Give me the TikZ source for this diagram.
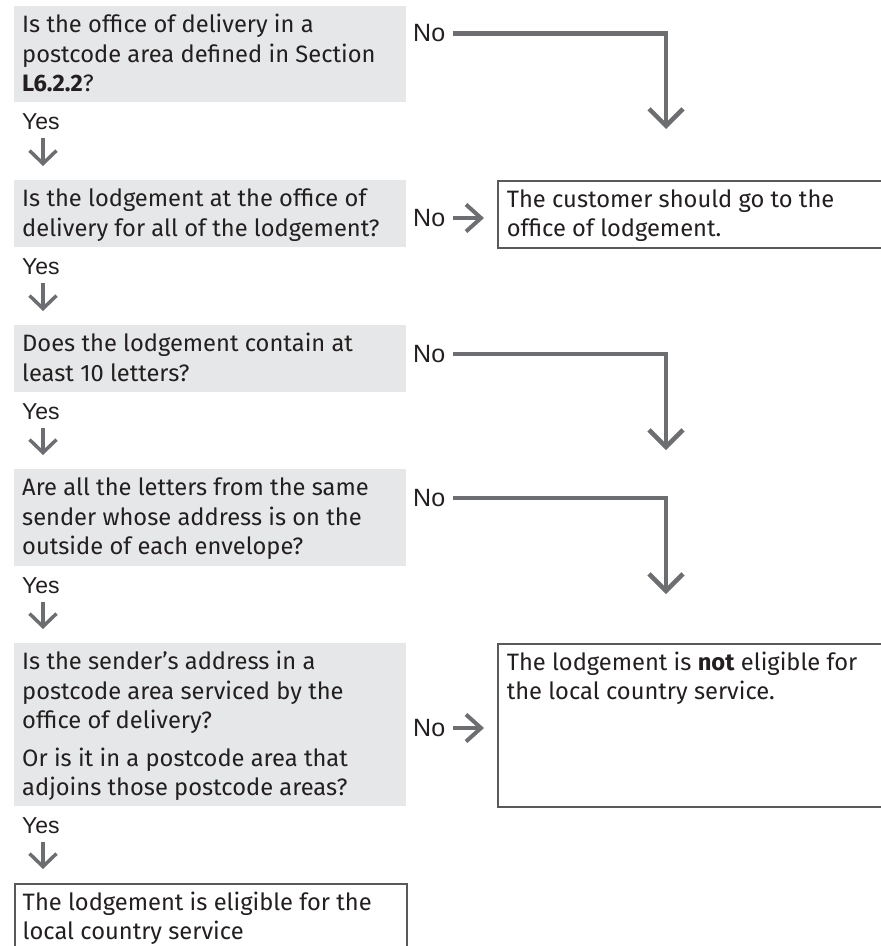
\documentclass[tikz,border=0pt]{standalone}
\usepackage{fontspec}
\setmainfont{Fira Sans}
\newfontfamily\labfont{Liberation Sans}
\usetikzlibrary{arrows.meta}
\definecolor{qgray}{HTML}{E6E7E8}
\definecolor{argray}{HTML}{6D6E71}
\definecolor{bdgray}{HTML}{58595B}
\definecolor{txt}{HTML}{231F20}
\newcommand{\bxt}[3]{\parbox[b][#1][t]{#2}{\raggedright\rule{0pt}{26.5pt}#3}}
\tikzset{
  mainfont/.style={font=\fontsize{23.7}{29.5}\selectfont},
  qbox/.style={mainfont, fill=qgray, inner xsep=8pt, inner ysep=0pt, anchor=north west},
  rbox/.style={mainfont, draw=bdgray, line width=1.5pt, fill=white, inner xsep=9pt, inner ysep=0pt, anchor=north west},
  yeslab/.style={font=\labfont\fontsize{23}{26}\selectfont, inner sep=0pt, anchor=base west},
  nolab/.style={font=\labfont\fontsize{25}{28}\selectfont, inner sep=0pt, anchor=west},
  bigarr/.style={draw=argray, line width=4.5pt, -{Straight Barb[length=17pt,width=34pt]}},
  yesarr/.style={draw=argray, line width=3.5pt, -{Straight Barb[length=13pt,width=27pt]}, shorten <=9pt, shorten >=14pt},
  rarr/.style={draw=argray, line width=4pt, -{Straight Barb[length=15pt,width=27pt]}, shorten <=8pt, shorten >=13pt}
}
\begin{document}
\begin{tikzpicture}[x=1pt, y=-1pt, text=txt]
\useasboundingbox (0,0) rectangle (881,946);
\clip (0,0) rectangle (881,946);
% question boxes
\node[qbox] (q1) at (14,6) {\bxt{96pt}{376pt}{Is the office of delivery in a\\ postcode area defined in Section\\ \textbf{L6.2.2}?}};
\node[qbox] (q2) at (14,180) {\bxt{67pt}{376pt}{Is the lodgement at the office of\\ delivery for all of the lodgement?}};
\node[qbox] (q3) at (14,325) {\bxt{67pt}{376pt}{Does the lodgement contain at\\ least 10 letters?}};
\node[qbox] (q4) at (14,469) {\bxt{97pt}{376pt}{Are all the letters from the same\\ sender whose address is on the\\ outside of each envelope?}};
\node[qbox] (q5) at (14,643) {\bxt{163pt}{376pt}{Is the sender’s address in a\\ postcode area serviced by the\\ office of delivery?\\[8pt] Or is it in a postcode area that\\ adjoins those postcode areas?}};
% result boxes
\node[rbox] (r1) at (497,180) {\bxt{67pt}{370pt}{The customer should go to the\\ office of lodgement.}};
\node[rbox] (r2) at (497,643) {\bxt{163pt}{370pt}{The lodgement is \textbf{not} eligible for\\ the local country service.}};
\node[rbox, inner xsep=8pt] (r3) at (14,883) {\bxt{100pt}{376pt}{The lodgement is eligible for the\\ local country service}};
% Yes labels
\node[yeslab] (y1) at (22,129) {Yes};
\node[yeslab] (y2) at (22,274) {Yes};
\node[yeslab] (y3) at (22,419) {Yes};
\node[yeslab] (y4) at (22,593) {Yes};
\node[yeslab] (y5) at (22,833) {Yes};
\coordinate (ax) at (43,0);
\draw[yesarr] (y1.south -| ax) -- (q2.north -| ax);
\draw[yesarr] (y2.south -| ax) -- (q3.north -| ax);
\draw[yesarr] (y3.south -| ax) -- (q4.north -| ax);
\draw[yesarr] (y4.south -| ax) -- (q5.north -| ax);
\draw[yesarr] (y5.south -| ax) -- (r3.north -| ax);
% No labels
\node[nolab] (n1) at (413,33.5) {No};
\node[nolab] (n2) at (413,218) {No};
\node[nolab] (n3) at (413,354) {No};
\node[nolab] (n4) at (413,498) {No};
\node[nolab] (n5) at (413,728) {No};
\coordinate (t1) at (666,129);
\coordinate (t3) at (666,450);
\coordinate (t4) at (666,594);
\draw[bigarr, shorten <=8pt] (n1.east) -| (t1);
\draw[bigarr, shorten <=8pt] (n3.east) -| (t3);
\draw[bigarr, shorten <=8pt] (n4.east) -| (t4);
\draw[rarr] (n2.east) -- (n2.east -| r1.west);
\draw[rarr] (n5.east) -- (n5.east -| r2.west);
\end{tikzpicture}
\end{document}
